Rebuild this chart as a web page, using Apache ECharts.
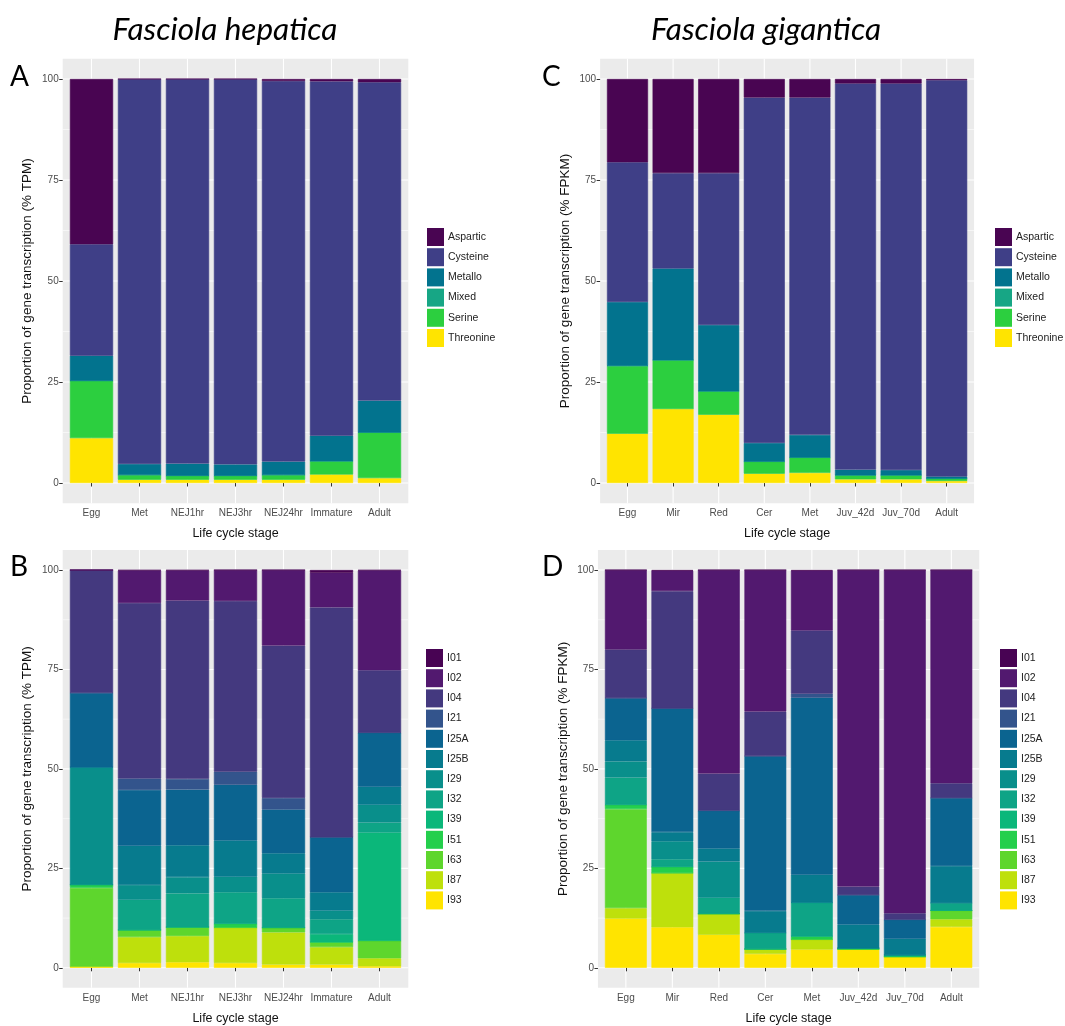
<!DOCTYPE html>
<html><head><meta charset="utf-8">
<script src="https://cdn.jsdelivr.net/npm/echarts@6/dist/echarts.min.js"></script>
<style>html,body{margin:0;padding:0;background:#fff}#main{width:1065px;height:1026px}</style>
</head><body><div id="main"></div>
<script>
// ---------- categories ----------
const hepStages = ['Egg','Met','NEJ1hr','NEJ3hr','NEJ24hr','Immature','Adult'];
const gigStages = ['Egg','Mir','Red','Cer','Met','Juv_42d','Juv_70d','Adult'];
const proteaseClasses = ['Aspartic','Cysteine','Metallo','Mixed','Serine','Threonine'];
const inhibitorFamilies = ['I01','I02','I04','I21','I25A','I25B','I29','I32','I39','I51','I63','I87','I93'];
const yTickValues = [0, 25, 50, 75, 100];

// ---------- values (% of transcription), one row per stage ----------
// Panel A: F. hepatica proteases (Aspartic, Cysteine, Metallo, Mixed, Serine, Threonine)
const hepProteaseEgg      = [40.9, 27.6, 6.2, 0, 14.2, 11.1];
const hepProteaseMet      = [0, 95.3, 2.7, 0, 1.2, 0.8];
const hepProteaseNEJ1hr   = [0, 95.2, 3.0, 0, 1.0, 0.8];
const hepProteaseNEJ3hr   = [0, 95.4, 2.8, 0, 1.0, 0.8];
const hepProteaseNEJ24hr  = [0.5, 94.2, 3.3, 0, 1.2, 0.8];
const hepProteaseImmature = [0.6, 87.7, 6.3, 0, 3.3, 2.1];
const hepProteaseAdult    = [0.8, 78.8, 7.9, 0, 11.3, 1.2];
// Panel C: F. gigantica proteases
const gigProteaseEgg    = [20.6, 34.6, 15.8, 0, 16.8, 12.2];
const gigProteaseMir    = [23.3, 23.6, 22.7, 0, 12.1, 18.3];
const gigProteaseRed    = [23.3, 37.6, 16.4, 0, 5.8, 16.9];
const gigProteaseCer    = [4.6, 85.5, 4.6, 0, 3.0, 2.3];
const gigProteaseMet    = [4.6, 83.5, 5.6, 0, 3.8, 2.5];
const gigProteaseJuv42d = [1.1, 95.6, 1.4, 0, 1.0, 0.9];
const gigProteaseJuv70d = [1.1, 95.7, 1.3, 0, 1.0, 0.9];
const gigProteaseAdult  = [0.3, 98.1, 0.5, 0, 0.6, 0.5];
// Panel B: F. hepatica inhibitors (I01 ... I93)
const hepInhibitorEgg      = [0, 0, 30.9, 0, 18.7, 0, 29.5, 0, 0, 0.8, 19.8, 0, 0.3];
const hepInhibitorMet      = [0.1, 8.2, 44.1, 2.9, 14.0, 9.9, 3.7, 7.6, 0, 0, 1.8, 6.5, 1.2];
const hepInhibitorNEJ1hr   = [0.1, 7.6, 44.8, 2.7, 14.0, 8.0, 4.1, 8.5, 0, 0, 2.2, 6.6, 1.4];
const hepInhibitorNEJ3hr   = [0, 7.8, 42.9, 3.3, 14.0, 9.1, 3.9, 7.9, 0, 1.0, 0, 8.9, 1.2];
const hepInhibitorNEJ24hr  = [0, 19.0, 38.3, 2.9, 11.0, 5.1, 6.2, 7.4, 0, 0, 1.2, 8.1, 0.8];
const hepInhibitorImmature = [0.7, 8.7, 57.8, 0, 13.8, 4.6, 2.2, 3.7, 2.1, 0, 1.2, 4.4, 0.8];
const hepInhibitorAdult    = [0.1, 25.1, 15.7, 0, 13.6, 4.5, 4.5, 2.5, 27.2, 0, 4.4, 2.0, 0.4];
// Panel D: F. gigantica inhibitors
const gigInhibitorEgg    = [0, 20.0, 12.2, 0, 10.6, 5.3, 4.1, 6.8, 0, 1.1, 24.9, 2.6, 12.4];
const gigInhibitorMir    = [0.2, 5.1, 29.5, 0, 31.1, 2.3, 4.5, 1.9, 0, 1.6, 0, 13.6, 10.2];
const gigInhibitorRed    = [0, 51.2, 9.3, 0, 9.5, 3.3, 9.1, 4.0, 0, 0, 0, 5.3, 8.3];
const gigInhibitorCer    = [0, 35.6, 11.2, 0, 38.9, 5.5, 0, 4.1, 0, 0, 0, 1.2, 3.5];
const gigInhibitorMet    = [0.2, 15.0, 15.9, 1.0, 44.5, 7.0, 0, 8.5, 0, 0.8, 0, 2.5, 4.6];
const gigInhibitorJuv42d = [0, 79.6, 2.1, 0, 7.4, 6.0, 0, 0, 0, 0.3, 0, 0, 4.6];
const gigInhibitorJuv70d = [0, 86.3, 1.6, 0, 4.8, 4.1, 0, 0, 0.4, 0, 0, 0, 2.8];
const gigInhibitorAdult  = [0, 53.6, 3.7, 0, 17.1, 9.3, 0, 1.9, 0, 0, 2.2, 1.9, 10.3];

// ---------- colours ----------
const proteaseColors = ['#490552','#3f3f87','#02738e','#17a685','#2ccf3f','#ffe400'];
const inhibitorColors = ['#480353','#52196f','#44397f','#33548c','#0b6490','#077b8e','#098f8b',
                         '#0ea486','#0bb77a','#24cf4c','#5ed62d','#bee00c','#ffe400'];

const FONT = '"Liberation Sans", Arial, sans-serif';

const panels = [
  { letter:'A', stages:hepStages, names:proteaseClasses, colors:proteaseColors, unit:'TPM',
    rows:[hepProteaseEgg,hepProteaseMet,hepProteaseNEJ1hr,hepProteaseNEJ3hr,hepProteaseNEJ24hr,hepProteaseImmature,hepProteaseAdult],
    grid:{left:67.5, top:79, width:336, height:404}, legend:{left:427, top:228}, letterPos:[10,77] },
  { letter:'B', stages:hepStages, names:inhibitorFamilies, colors:inhibitorColors, unit:'TPM',
    rows:[hepInhibitorEgg,hepInhibitorMet,hepInhibitorNEJ1hr,hepInhibitorNEJ3hr,hepInhibitorNEJ24hr,hepInhibitorImmature,hepInhibitorAdult],
    grid:{left:67.5, top:570, width:336, height:404}, legend:{left:426, top:649}, letterPos:[10,567] },
  { letter:'C', stages:gigStages, names:proteaseClasses, colors:proteaseColors, unit:'FPKM',
    rows:[gigProteaseEgg,gigProteaseMir,gigProteaseRed,gigProteaseCer,gigProteaseMet,gigProteaseJuv42d,gigProteaseJuv70d,gigProteaseAdult],
    grid:{left:604.7, top:79, width:364.8, height:404}, legend:{left:995, top:228}, letterPos:[542,77] },
  { letter:'D', stages:gigStages, names:inhibitorFamilies, colors:inhibitorColors, unit:'FPKM',
    rows:[gigInhibitorEgg,gigInhibitorMir,gigInhibitorRed,gigInhibitorCer,gigInhibitorMet,gigInhibitorJuv42d,gigInhibitorJuv70d,gigInhibitorAdult],
    grid:{left:602.6, top:570, width:372, height:404}, legend:{left:1000, top:649}, letterPos:[542,567] }
];

const chart = echarts.init(document.getElementById('main'), null, {renderer:'canvas'});

const grids = [], xAxes = [], yAxes = [], legends = [], series = [];
panels.forEach((p, i) => {
  const band = p.grid.width / p.stages.length;
  grids.push(Object.assign({containLabel:false}, p.grid));
  xAxes.push({
    type:'category', gridIndex:i, data:p.stages, offset: p.grid.height * 0.05,
    axisLine:{show:false}, splitLine:{show:false},
    axisTick:{show:true, alignWithLabel:true, length:3.5, lineStyle:{color:'#333', width:1}},
    axisLabel:{fontSize:10, color:'#4d4d4d', fontFamily:FONT, margin:5, interval:0},
    name:'Life cycle stage', nameLocation:'middle', nameGap:24,
    nameTextStyle:{fontSize:12.5, color:'#111', fontFamily:FONT}
  });
  yAxes.push({
    type:'value', gridIndex:i, min:0, max:100, interval:25, offset: band * 0.1,
    axisLine:{show:false}, splitLine:{show:false},
    axisTick:{show:true, length:3.5, lineStyle:{color:'#333', width:1}},
    axisLabel:{fontSize:10, color:'#4d4d4d', fontFamily:FONT, margin:4},
    name:'Proportion of gene transcription (% ' + p.unit + ')', nameLocation:'middle', nameGap:28,
    nameRotate:90, nameTextStyle:{fontSize:13.5, color:'#111', fontFamily:FONT}
  });
  legends.push({
    orient:'vertical', left:p.legend.left, top:p.legend.top, padding:0,
    itemWidth:17, itemHeight:18, itemGap:2.2, icon:'rect',
    itemStyle:{borderWidth:0},
    data:p.names.slice(), selectedMode:false,
    textStyle:{fontSize:10.5, color:'#222', fontFamily:FONT, padding:[0,0,0,-1]}
  });
  // bottom of stack first (last class first)
  for (let k = p.names.length - 1; k >= 0; k--) {
    series.push({
      type:'bar', name:p.names[k], xAxisIndex:i, yAxisIndex:i, stack:'s' + i,
      barCategoryGap:'10%',
      itemStyle:{color:p.colors[k], borderColor:p.colors[k], borderWidth:0.6},
      data:p.rows.map(r => r[k]), animation:false, emphasis:{disabled:true}
    });
  }
});

chart.setOption({
  backgroundColor:'#ffffff', animation:false,
  grid:grids, xAxis:xAxes, yAxis:yAxes, legend:legends, series:series
});

// background panels & gridlines derived from the axes' own scales
const elements = [];
panels.forEach((p, i) => {
  const n = p.stages.length;
  const c0 = chart.convertToPixel({gridIndex:i}, [0, 0]);
  const c1 = chart.convertToPixel({gridIndex:i}, [1, 100]);
  const cn = chart.convertToPixel({gridIndex:i}, [n - 1, 0]);
  const band = c1[0] - c0[0];
  const span = c0[1] - c1[1];
  const xl = c0[0] - 0.6 * band, xr = cn[0] + 0.6 * band;
  const yt = c1[1] - 0.05 * span, yb = c0[1] + 0.05 * span;
  elements.push({type:'rect', silent:true, z:-10, shape:{x:xl, y:yt, width:xr - xl, height:yb - yt}, style:{fill:'#ebebeb'}});
  for (let v = 0; v <= 100; v += 12.5) {
    const y = chart.convertToPixel({gridIndex:i}, [0, v])[1];
    const major = v % 25 === 0;
    elements.push({type:'line', silent:true, z:-9, shape:{x1:xl, y1:y, x2:xr, y2:y},
      style:{stroke:'#ffffff', lineWidth: major ? 1.1 : 0.55}});
  }
  for (let k = 0; k < n; k++) {
    const x = chart.convertToPixel({gridIndex:i}, [k, 0])[0];
    elements.push({type:'line', silent:true, z:-9, shape:{x1:x, y1:yt, x2:x, y2:yb},
      style:{stroke:'#ffffff', lineWidth:1.1}});
  }
  elements.push({type:'text', silent:true, x:p.letterPos[0], y:p.letterPos[1],
    style:{text:p.letter, font:'28px "Lato", "Liberation Sans", sans-serif', fill:'#000', align:'left', verticalAlign:'middle'}});
});
elements.push({type:'text', silent:true, x:225, y:30,
  style:{text:'Fasciola hepatica', font:'italic 31.5px "Lato", "Liberation Sans", sans-serif', fill:'#000', align:'center', verticalAlign:'middle'}});
elements.push({type:'text', silent:true, x:766, y:30,
  style:{text:'Fasciola gigantica', font:'italic 31.5px "Lato", "Liberation Sans", sans-serif', fill:'#000', align:'center', verticalAlign:'middle'}});

chart.setOption({graphic:{elements:elements}});
</script>
</body></html>
